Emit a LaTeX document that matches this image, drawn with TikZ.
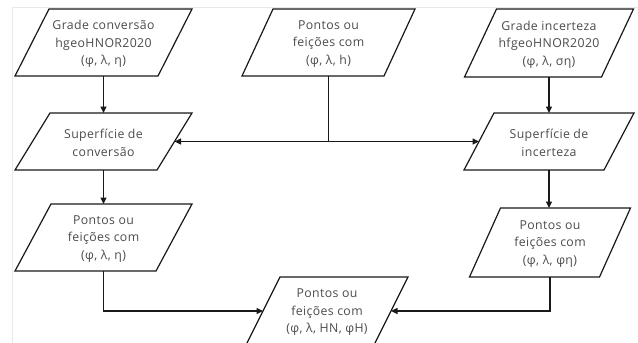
\documentclass[tikz,border=0pt]{standalone}
\usepackage{fontspec}
\setmainfont{Open Sans}[LetterSpace=3]
\usetikzlibrary{arrows.meta,calc}
\tikzset{
  txt/.style={align=center,text=black!70,font=\fontsize{12.3}{17.5}\selectfont,inner sep=0pt,yshift=-1.5pt},
  boxline/.style={draw=black!90,line width=1.2pt,line join=miter},
  arr/.style={draw=black!90,line width=1.2pt,-{Triangle[length=6.5pt,width=6pt]}},
  plain/.style={draw=black!90,line width=1.2pt},
}
% #1 name, #2 cx, #3 cy, #4 width, #5 height, #6 skew, #7 text
\newcommand\paral[7]{%
  \node[txt] (#1) at (#2,#3) {#7};
  \draw[boxline] (#2-#4/2+#6/2,#3-#5/2) -- (#2+#4/2+#6/2,#3-#5/2)
     -- (#2+#4/2-#6/2,#3+#5/2) -- (#2-#4/2-#6/2,#3+#5/2) -- cycle;
  \coordinate (#1-t) at (#2,#3-#5/2);
  \coordinate (#1-b) at (#2,#3+#5/2);
  \coordinate (#1-l) at (#2-#4/2,#3);
  \coordinate (#1-r) at (#2+#4/2,#3);
}
\begin{document}
\begin{tikzpicture}[x=1pt,y=-1pt]
\useasboundingbox (0,0) rectangle (638,343);
\clip (0,0) rectangle (638,343);
\fill[white] (0,0) rectangle (638,343);
\draw[gray!18,line width=0.8pt] (12,343) -- (12,7) -- (638,7);

\paral{B1}{103.5}{42.5}{143}{67}{34}{Grade conversão\\hgeoHNOR2020\\(φ, λ, η)}
\paral{B2}{328.5}{42.5}{142}{67}{31}{Pontos ou\\feições com\\(φ, λ, h)}
\paral{B3}{549}{43}{137}{68}{32}{Grade incerteza\\hfgeoHNOR2020\\(φ, λ, ση)}
\paral{B4}{103.5}{141.5}{142}{57}{35}{Superfície de\\conversão}
\paral{B5}{549}{141.5}{140}{57}{30}{Superfície de\\incerteza}
\paral{B6}{103.5}{237.5}{141}{67}{36}{Pontos ou\\feições com\\(φ, λ, η)}
\paral{B7}{550}{242.5}{130}{69}{31}{Pontos ou\\feições com\\(φ, λ, φη)}
\paral{B8}{327}{311}{128}{68}{34}{Pontos ou\\feições com\\(φ, λ, HN, φH)}

\draw[arr] (B1-b) -- (B4-t);
\draw[arr] (B4-b) -- (B6-t);
\draw[arr] (B3-b) -- (B5-t);
\draw[arr] (B5-b) -- (B5-b |- B7-t);
\coordinate (J) at (B2-b |- B4-r);
\draw[plain] (B2-b) -- (J);
\draw[arr] (J) -- (B4-r);
\draw[arr] (J) -- (B5-l);
\draw[arr] (B6-b) |- (B8-l);
\draw[arr] (B7-b) |- (B8-r);
\end{tikzpicture}
\end{document}
